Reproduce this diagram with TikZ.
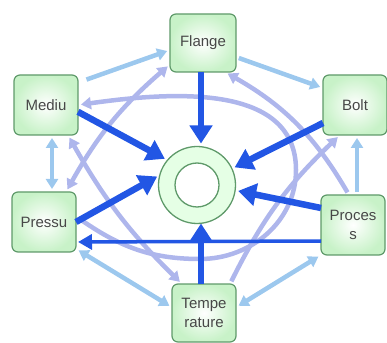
\documentclass[tikz,border=0pt]{standalone}
\usepackage{fontspec}
\setmainfont{Liberation Sans}
\usetikzlibrary{arrows.meta, positioning}

\definecolor{boxline}{HTML}{5F9A6A}
\definecolor{boxfill}{HTML}{C8F2C8}
\definecolor{deepblue}{HTML}{2256E4}
\definecolor{softblue}{HTML}{9CC8EE}
\definecolor{lavender}{HTML}{AEB6EC}

\begin{document}
\begin{tikzpicture}[x=1pt, y=1pt]
  \tikzset{
    box/.style={
      rectangle,
      rounded corners=6pt, % soft corners as in the picture
      draw=boxline, line width=1.2pt,
      inner color=white, outer color=boxfill,
      minimum width=64pt, % all boxes about the same size
      minimum height=60pt,
      outer sep=0pt,
      text=black!72, align=center,
      font=\fontsize{15}{19}\selectfont,
    },
    ring/.style={circle, draw=boxline, line width=1.3pt, fill=green!10, minimum size=77pt, outer sep=0pt},
    hub/.style={circle, draw=boxline, line width=1.3pt, fill=white, minimum size=44pt},
    main/.style={draw=deepblue, line width=6.5pt, >={Triangle[width=22pt,length=18pt]}, ->, shorten >=3pt},
    link/.style={draw=deepblue, line width=3.5pt, >={Triangle[width=15pt,length=14pt]}, ->, shorten >=2pt},
    soft/.style={draw=softblue, line width=4.5pt, >={Triangle[width=12pt,length=10pt]}, shorten <=3pt, shorten >=3pt},
    curve/.style={draw=lavender, line width=4.5pt, >={Triangle[width=12pt,length=10pt]}, shorten <=3pt, shorten >=3pt},
  }
  \useasboundingbox (0,0) rectangle (387,342);

  \node[box, minimum width=66pt, minimum height=58pt] (flange) at (203,299) {Flange};
  \node[box] (mediu) at (46,237) {Mediu};
  \node[box] (bolt) at (355,237) {Bolt};
  \node[box] (pressu) at (44,120) {Pressu};
  \node[box] (proces) at (353,117) {Proces\\s};
  \node[box, minimum height=58pt] (temp) at (204,29) {Tempe\\rature};
  \node[ring] (ring) at (197,157) {};
  \node[hub] (hub) at (ring) {};

  % curved links
  \coordinate (loopbot) at (200,83);
  \coordinate (loopright) at (296,172);
  \draw[curve, <->] (flange.213) to[bend right=10] ([xshift=22pt]pressu.north);
  \draw[curve, ->] (pressu.10) to[out=-35, in=180] (loopbot) to[out=0, in=-90] (loopright) to[out=90, in=8] (mediu.east);
  \draw[curve, <->] ([xshift=22pt]mediu.south) to[bend right=8] ([xshift=-22pt]temp.north);
  \draw[curve, ->] ([xshift=-6pt]temp.north east) to[bend left=10] ([xshift=-15pt]bolt.south);
  \draw[curve, ->] ([xshift=-4pt]proces.north) to[bend right=15] ([xshift=22pt]flange.south);

  % straight links
  \draw[soft, ->, shorten <=9pt] (mediu.35) -- (flange.192);
  \draw[soft, ->] (flange.-23) -- (bolt.152);
  \draw[soft, <->] ([xshift=6pt]mediu.south) -- ([xshift=8pt]pressu.north);
  \draw[soft, ->] ([xshift=4pt]proces.north) -- ([xshift=2pt]bolt.south);
  \draw[soft, <->] (pressu.-40) -- (temp.170);
  \draw[soft, <->] (temp.10) -- (proces.south west);

  % into the ring
  \draw[main] ([xshift=-2pt]flange.south) -- ([xshift=-2pt]flange.south |- ring.north);
  \draw[main] (mediu.-12) -- (ring.140);
  \draw[main] ([yshift=-18pt]bolt.west) -- (ring.25);
  \draw[main] (pressu.east) -- (ring.165);
  \draw[main] ([yshift=17pt]proces.west) -- (ring.-8);
  \draw[main, shorten >=0pt] ([xshift=-3pt]temp.north) -- ([xshift=-3pt]temp.north |- ring.south);
  \draw[link] ([yshift=-16pt]proces.west) -- ([yshift=-20pt]pressu.east);
\end{tikzpicture}
\end{document}
